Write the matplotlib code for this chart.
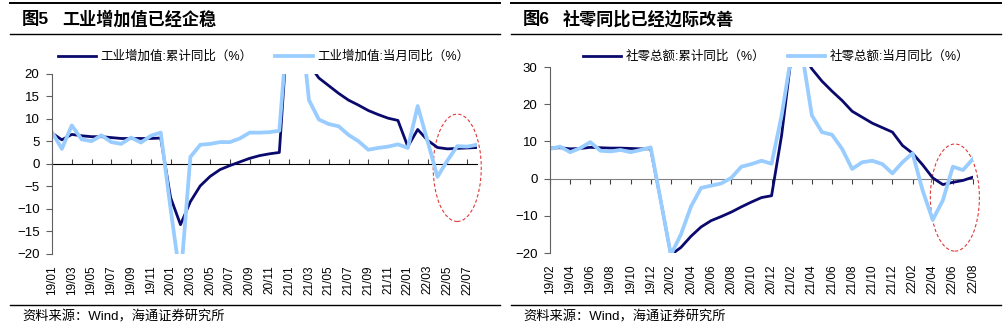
import matplotlib
matplotlib.use('Agg')
import matplotlib.pyplot as plt
from matplotlib.patches import Ellipse
from matplotlib.lines import Line2D
import numpy as np

plt.rcParams['font.family'] = ['Liberation Sans', 'Noto Sans CJK SC']

NAVY = '#0a0a6e'
LIGHT = '#99ccff'
GRAY = '#808080'

# 图5 工业增加值 (19/01 - 22/08)
ind_ticks = ['19/01', '19/03', '19/05', '19/07', '19/09', '19/11',
             '20/01', '20/03', '20/05', '20/07', '20/09', '20/11',
             '21/01', '21/03', '21/05', '21/07', '21/09', '21/11',
             '22/01', '22/03', '22/05', '22/07']
ind_cum = [6.8, 5.3, 6.5, 6.2, 6.0, 6.0, 5.8, 5.6, 5.6, 5.6, 5.6, 5.7,
           -7.5, -13.5, -8.4, -4.9, -2.8, -1.3, -0.4, 0.4, 1.2, 1.8, 2.2, 2.5,
           35.1, 35.1, 22.0, 19.0, 17.3, 15.6, 14.1, 13.0, 11.8, 10.9, 10.1, 9.6,
           3.8, 7.6, 5.2, 3.6, 3.3, 3.4, 3.5, 3.6]
ind_mon = [7.0, 3.3, 8.5, 5.4, 5.0, 6.3, 4.8, 4.4, 5.8, 4.7, 6.2, 6.9,
           -10.0, -25.9, 1.5, 4.2, 4.4, 4.8, 4.8, 5.6, 6.9, 6.9, 7.0, 7.3,
           35.1, 35.1, 14.1, 9.8, 8.8, 8.3, 6.4, 5.0, 3.1, 3.5, 3.8, 4.3,
           3.5, 12.8, 5.0, -2.9, 0.7, 3.9, 3.8, 4.2]

# 图6 社零总额 (19/02 - 22/08)
ret_ticks = ['19/02', '19/04', '19/06', '19/08', '19/10', '19/12',
             '20/02', '20/04', '20/06', '20/08', '20/10', '20/12',
             '21/02', '21/04', '21/06', '21/08', '21/10', '21/12',
             '22/02', '22/04', '22/06', '22/08']
ret_cum = [8.2, 8.3, 8.0, 8.1, 8.4, 8.3, 8.2, 8.2, 8.1, 8.0, 8.0,
           -6.0, -20.5, -18.5, -15.5, -13.0, -11.3, -10.2, -9.0, -7.6, -6.3, -5.1, -4.6,
           11.7, 33.8, 33.9, 29.5, 26.2, 23.5, 21.0, 18.1, 16.5, 14.9, 13.7, 12.5,
           8.9, 6.8, 3.7, 0.2, -1.6, -1.0, -0.5, 0.4]
ret_mon = [8.0, 8.6, 7.1, 8.2, 9.8, 7.5, 7.3, 7.7, 7.1, 7.7, 8.4,
           -6.0, -20.5, -15.0, -7.5, -2.5, -1.9, -1.3, 0.2, 3.2, 3.9, 4.8, 4.0,
           17.0, 33.8, 34.2, 17.0, 12.5, 11.8, 8.0, 2.6, 4.4, 4.8, 3.9, 1.4,
           4.4, 6.8, -3.2, -11.1, -5.9, 3.2, 2.3, 5.3]

W, H = 1007, 330
fig = plt.figure(figsize=(W / 100, H / 100), dpi=100)


def fx(px):
    return px / W


def fy(py):
    return 1 - py / H


def hline(x0, x1, y, lw):
    fig.add_artist(Line2D([fx(x0), fx(x1)], [fy(y), fy(y)], color='black',
                          lw=lw, transform=fig.transFigure))


def panel(box, cum, mon, ticks, yticks, names, title_no, title, tx, leg_x, ell):
    l, t, r, b = box
    ax = fig.add_axes([fx(l), fy(b), (r - l) / W, (b - t) / H])
    x = np.arange(len(cum))
    ax.plot(x, cum, color=NAVY, lw=2.0, solid_joinstyle='round', label=names[0])
    ax.plot(x, mon, color=LIGHT, lw=2.7, solid_joinstyle='round', label=names[1])
    ax.set_xlim(0, len(cum) - 1)
    ax.set_ylim(yticks[0], yticks[-1])
    for s in ['top', 'right', 'bottom']:
        ax.spines[s].set_visible(False)
    ax.spines['left'].set_color('#606060')
    ax.set_yticks(yticks)
    ax.tick_params(axis='y', direction='out', length=4, width=0.8,
                   color='#606060', labelsize=9.5, pad=5)
    ax.set_xticks(x[::2])
    ax.set_xticklabels(ticks, rotation=90, fontsize=8.5)
    ax.tick_params(axis='x', length=0, pad=8)

    # zero line with tick marks
    zero = -yticks[0] / (yticks[-1] - yticks[0])
    sec = ax.secondary_xaxis(zero)
    sec.set_xticks(x[::2])
    sec.set_xticklabels([])
    sec.spines['bottom'].set_color(GRAY)
    sec.tick_params(direction='out', length=3.5, width=0.8, color='#404040')

    ax.add_patch(Ellipse(ell[:2], ell[2], ell[3], fill=False, ec='#e03a3a',
                         ls=(0, (3, 2)), lw=0.8, clip_on=False))

    fig.legend(handles=ax.get_lines(), loc='center left',
               bbox_to_anchor=(fx(leg_x), fy(57)), bbox_transform=fig.transFigure,
               ncol=2, frameon=False, fontsize=9, handlelength=3.0,
               handletextpad=0.4, columnspacing=1.8, borderpad=0, borderaxespad=0)

    # header / footer
    hline(tx - 12, tx + 478, 3, 1.4)
    hline(tx - 12, tx + 478, 34, 1.0)
    hline(tx - 12, tx + 478, 305, 1.0)
    fig.text(fx(tx), fy(19), title_no, fontsize=12.5, fontweight='bold', va='center')
    fig.text(fx(tx + 40), fy(19), title, fontsize=12.3, fontweight='bold', va='center')
    fig.text(fx(tx), fy(317), '资料来源：Wind，海通证券研究所', fontsize=9.5, va='center')
    return ax


panel((52, 73.5, 477, 254), ind_cum, ind_mon, ind_ticks, list(range(-20, 21, 5)),
      ['工业增加值:累计同比（%）', '工业增加值:当月同比（%）'],
      '图5', '工业增加值已经企稳', 22, 58, (41.0, -0.9, 4.86, 23.8))
panel((550, 67, 973, 253), ret_cum, ret_mon, ret_ticks, list(range(-20, 31, 10)),
      ['社零总额:累计同比（%）', '社零总额:当月同比（%）'],
      '图6', '社零同比已经边际改善', 523, 583, (40.2, -5.1, 4.87, 28.8))

fig.savefig('out.png', dpi=100)
